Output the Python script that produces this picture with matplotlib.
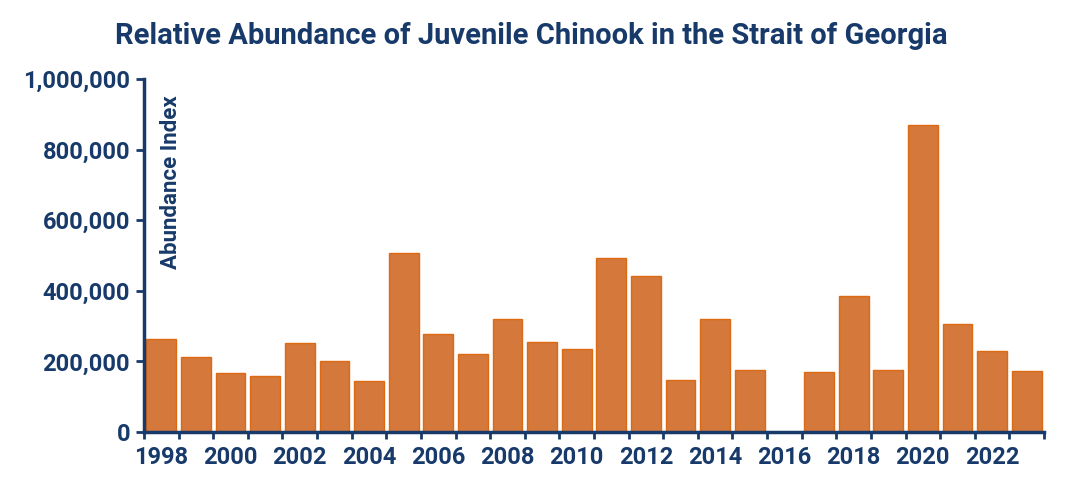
import matplotlib
matplotlib.use("Agg")
import matplotlib.pyplot as plt
from matplotlib.ticker import FuncFormatter

years = list(range(1998, 2024))
abundance = [263000, 212000, 167000, 159000, 252000, 201000, 144000, 507000,
             278000, 221000, 320000, 255000, 235000, 493000, 442000, 147000,
             320000, 176000, 0, 170000, 385000, 176000, 870000, 306000,
             230000, 173000]
label_years = [y for y in years if y % 2 == 0]

navy = "#173a6a"
bar_color = "#d5783b"
edge_color = "#dc6a12"

plt.rcParams['font.family'] = ['Roboto', 'DejaVu Sans']

fig = plt.figure(figsize=(10.8, 4.87), dpi=100)
ax = fig.add_axes([144 / 1080, 1 - 432 / 487, 900 / 1080, (432 - 79) / 487])

x = [y - years[0] for y in years]
ax.bar(x, abundance, width=0.86, color=bar_color, edgecolor=edge_color, linewidth=1)

ax.set_xlim(-0.5, len(years) - 0.5)
ax.set_ylim(0, 1000000)

# boundary ticks without labels, year labels under the bars
ax.set_xticks([i - 0.5 for i in range(len(years) + 1)])
ax.set_xticklabels([])
ax.set_xticks([y - years[0] for y in label_years], minor=True)
ax.set_xticklabels([str(y) for y in label_years], minor=True)
ax.tick_params(axis='x', which='major', length=5, width=2, color=navy, direction='out')
ax.tick_params(axis='x', which='minor', length=0, pad=10, labelsize=17, labelcolor=navy)

ax.set_yticks(range(0, 1000001, 200000))
ax.yaxis.set_major_formatter(FuncFormatter(lambda v, p: f"{int(v):,}"))
ax.tick_params(axis='y', length=6, width=2, color=navy, labelsize=17, labelcolor=navy, pad=4)
for lab in ax.get_yticklabels() + ax.get_xticklabels(minor=True):
    lab.set_fontweight('bold')

for side in ['top', 'right']:
    ax.spines[side].set_visible(False)
for side in ['left', 'bottom']:
    ax.spines[side].set_color(navy)
    ax.spines[side].set_linewidth(2.5)

ax.text(0.018, 0.955, "Abundance Index", transform=ax.transAxes, rotation=90,
        ha='left', va='top', fontsize=16, fontweight='bold', color=navy)

fig.text(0.492, 0.927, "Relative Abundance of Juvenile Chinook in the Strait of Georgia",
         ha='center', va='center', fontsize=21, fontweight='bold', color=navy)

fig.savefig("out.png", dpi=100)
